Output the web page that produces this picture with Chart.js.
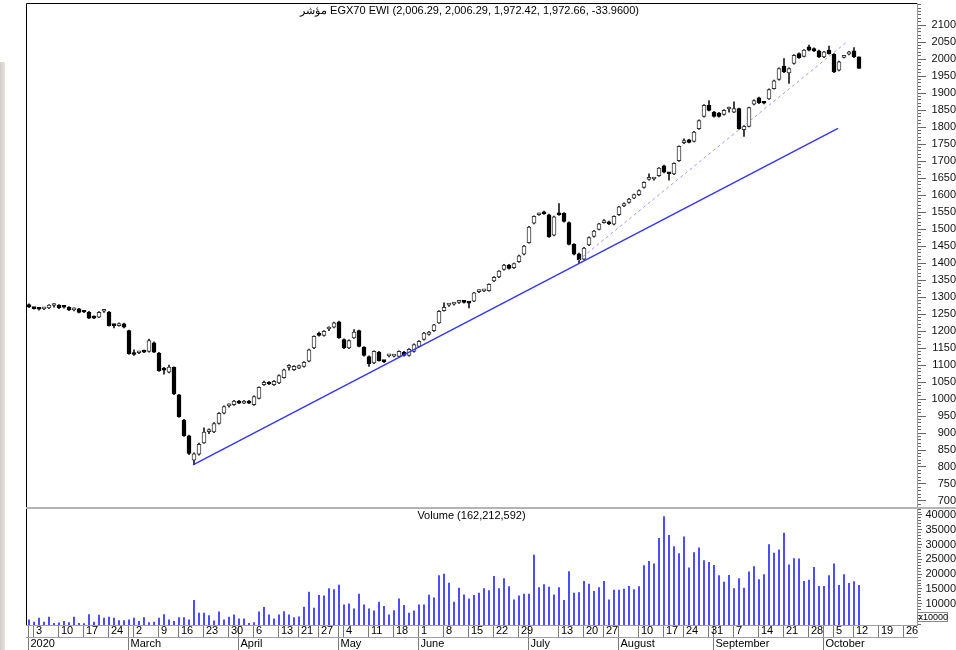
<!DOCTYPE html>
<html>
<head>
<meta charset="utf-8">
<script src="https://cdn.jsdelivr.net/npm/chart.js@4.4.1/dist/chart.umd.min.js"></script>
<style>
  html, body { margin: 0; padding: 0; background: #fff; }
  #wrap { width: 956px; height: 650px; }
</style>
</head>
<body>
<div id="wrap"><canvas id="chart" width="956" height="650"></canvas></div>
<script>
// daily candles, one per trading day (Feb 2 .. Oct 13, 2020)
const openP = [
  1278, 1268, 1265, 1265, 1268, 1275, 1276, 1271, 1270, 1262, 1265, 1258, 1256, 1243, 1241, 1258, 1256, 1218, 1216, 1221,
  1201, 1135, 1136, 1142, 1140, 1165, 1135, 1086, 1079, 1093, 1012, 938, 892, 820, 838, 871, 904, 903, 928, 958,
  980, 983, 994, 988, 994, 983, 1002, 1042, 1049, 1042, 1047, 1063, 1093, 1086, 1091, 1096, 1111, 1150, 1192, 1187,
  1206, 1211, 1227, 1175, 1150, 1180, 1201, 1152, 1125, 1106, 1138, 1111, 1127, 1126, 1125, 1138, 1128, 1140, 1155, 1175,
  1190, 1201, 1224, 1260, 1276, 1279, 1284, 1286, 1283, 1288, 1316, 1318, 1319, 1347, 1359, 1381, 1394, 1386, 1404, 1426,
  1460, 1517, 1542, 1547, 1542, 1482, 1546, 1546, 1519, 1455, 1427, 1411, 1453, 1478, 1499, 1519, 1521, 1514, 1542, 1568,
  1578, 1591, 1601, 1622, 1646, 1647, 1657, 1686, 1664, 1662, 1701, 1754, 1762, 1758, 1795, 1831, 1864, 1844, 1841, 1837,
  1853, 1844, 1854, 1792, 1802, 1867, 1886, 1871, 1883, 1913, 1940, 1979, 1959, 1987, 2016, 2008, 2036, 2031, 2024, 2006,
  2026, 2014, 1967, 2005, 2014, 2024, 2006.29
];
const highP = [
  1280, 1270, 1267, 1270, 1278, 1281, 1278, 1273, 1272, 1268, 1267, 1260, 1258, 1245, 1257, 1263, 1258, 1220, 1224, 1223,
  1203, 1145, 1140, 1144, 1176, 1168, 1137, 1093, 1100, 1095, 1014, 940, 894, 842, 870, 915, 912, 931, 960, 980,
  986, 996, 996, 996, 996, 1009, 1036, 1053, 1051, 1054, 1071, 1088, 1101, 1098, 1100, 1110, 1147, 1186, 1197, 1201,
  1212, 1226, 1229, 1177, 1174, 1204, 1203, 1154, 1127, 1142, 1140, 1114, 1131, 1129, 1142, 1140, 1148, 1162, 1172, 1196,
  1199, 1220, 1260, 1283, 1280, 1284, 1289, 1288, 1286, 1314, 1321, 1321, 1339, 1360, 1378, 1396, 1396, 1400, 1423, 1452,
  1508, 1539, 1547, 1553, 1544, 1538, 1575, 1548, 1521, 1457, 1429, 1446, 1477, 1496, 1517, 1528, 1523, 1539, 1567, 1577,
  1590, 1603, 1615, 1639, 1662, 1650, 1681, 1688, 1666, 1695, 1745, 1765, 1764, 1787, 1821, 1866, 1878, 1846, 1843, 1851,
  1859, 1874, 1856, 1804, 1859, 1880, 1888, 1874, 1912, 1938, 1974, 2001, 1974, 2013, 2018, 2028, 2041, 2033, 2026, 2023,
  2038, 2016, 1994, 2008, 2023, 2034, 2006.29
];
const lowP = [
  1269, 1264, 1261, 1263, 1266, 1270, 1266, 1267, 1260, 1259, 1253, 1254, 1236, 1236, 1239, 1255, 1214, 1209, 1214, 1209,
  1131, 1128, 1133, 1136, 1138, 1136, 1081, 1073, 1077, 1013, 946, 890, 836, 807, 835, 869, 898, 901, 926, 956,
  976, 981, 986, 986, 986, 981, 1000, 1040, 1042, 1040, 1045, 1061, 1085, 1084, 1089, 1094, 1109, 1148, 1185, 1185,
  1201, 1209, 1178, 1148, 1148, 1178, 1153, 1126, 1096, 1104, 1111, 1107, 1124, 1124, 1123, 1126, 1126, 1138, 1153, 1173,
  1188, 1199, 1222, 1258, 1272, 1276, 1281, 1282, 1268, 1286, 1313, 1316, 1317, 1345, 1357, 1379, 1382, 1384, 1402, 1424,
  1458, 1515, 1540, 1543, 1475, 1480, 1540, 1520, 1453, 1424, 1400, 1409, 1451, 1476, 1497, 1517, 1513, 1512, 1540, 1566,
  1576, 1589, 1599, 1620, 1644, 1644, 1655, 1665, 1644, 1660, 1699, 1751, 1753, 1756, 1793, 1829, 1847, 1829, 1829, 1835,
  1844, 1842, 1793, 1772, 1800, 1865, 1869, 1868, 1881, 1911, 1938, 1960, 1928, 1985, 2002, 2006, 2024, 2022, 2004, 2004,
  2014, 1960, 1965, 2003, 2012, 2004, 1972.42
];
const closeP = [
  1271, 1266, 1264, 1268, 1276, 1276, 1268, 1270, 1262, 1266, 1255, 1256, 1238, 1238, 1255, 1259, 1216, 1216, 1222, 1211,
  1133, 1131, 1137, 1138, 1172, 1138, 1083, 1085, 1094, 1015, 948, 892, 840, 839, 867, 903, 906, 928, 958, 978,
  982, 994, 988, 994, 988, 1007, 1034, 1049, 1044, 1052, 1069, 1086, 1094, 1096, 1098, 1108, 1145, 1184, 1187, 1199,
  1207, 1224, 1180, 1150, 1172, 1197, 1155, 1128, 1103, 1140, 1113, 1110, 1128, 1127, 1140, 1128, 1146, 1160, 1170, 1194,
  1197, 1218, 1258, 1270, 1278, 1280, 1285, 1284, 1282, 1312, 1317, 1319, 1337, 1358, 1376, 1394, 1384, 1398, 1421, 1450,
  1506, 1537, 1544, 1545, 1477, 1536, 1542, 1522, 1455, 1426, 1409, 1444, 1475, 1494, 1515, 1521, 1515, 1537, 1565, 1575,
  1588, 1601, 1613, 1637, 1647, 1648, 1679, 1667, 1662, 1693, 1743, 1755, 1755, 1785, 1819, 1864, 1849, 1831, 1831, 1849,
  1854, 1854, 1795, 1802, 1857, 1878, 1871, 1870, 1910, 1936, 1972, 1962, 1972, 2011, 2004, 2026, 2026, 2024, 2006, 2021,
  2016, 1962, 1992, 2006, 2021, 2006.62, 1972.66
];
// volume in units of 10000
const volume = [
  4540, 3750, 5110, 3750, 5450, 3400, 3500, 4000, 3640, 5450, 3400,
  3300, 6350, 3750, 6130, 5110, 5450, 5110, 4300, 4300, 4540,
  5110, 4000, 5340, 3640, 3750, 5110, 6350, 4540, 4000, 5340,
  5340, 4540, 11110, 6810, 6810, 6010, 4200, 7260, 4540, 5450,
  6240, 4880, 4880, 3400, 3640, 7260, 8730, 6240, 4880, 6240,
  7370, 6240, 5340, 5560, 8850, 13940, 8510, 12810, 12700, 15080,
  14740, 16320, 9640, 9980, 8280, 13260, 9640, 8280, 7600, 10550,
  9070, 6240, 7710, 11680, 9420, 6810, 7600, 9640, 9640, 12930,
  12020, 19500, 20060, 17000, 10550, 15300, 13040, 11680, 12810, 13600,
  15080, 14400, 19270, 15080, 18480, 15760, 11340, 12700, 13260, 13260,
  26410, 15420, 16440, 15650, 13040, 15420, 11110, 20860, 13600, 13720,
  17570, 16670, 14170, 15420, 17570, 11340, 14620, 14620, 14970, 15870,
  14740, 15760, 22900, 24370, 23460, 32070, 39440, 33090, 29350, 26970,
  32640, 22100, 27310, 28900, 24600, 24030, 23010, 19500, 17340, 19610,
  15080, 18480, 15300, 20740, 22560, 18140, 19840, 30030, 27090, 28220,
  33890, 23120, 25280, 25160, 17570, 18020, 22330, 15870, 15870, 19500,
  23460, 16210, 19840, 16890, 17460, 16221
];

// first trading day of each week / month (index into the daily arrays)
const weekStart = [1, 6, 11, 16, 21, 26, 30, 35, 40, 45, 50, 54, 58, 63, 68, 73, 78, 83, 88, 93, 98,
  106, 111, 115, 122, 127, 131, 136, 141, 146, 151, 156, 161, 165, 170, 175];
const weekLabels = ['3', '10', '17', '24', '2', '9', '16', '23', '30', '6', '13', '21', '27', '4', '11', '18',
  '1', '8', '15', '22', '29', '13', '20', '27', '10', '17', '24', '31', '7', '14', '21', '28', '5', '12', '19', '26'];
const monthStart = [0, 20, 42, 62, 78, 100, 118, 137, 159];
const monthLabels = ['2020', 'March', 'April', 'May', 'June', 'July', 'August', 'September', 'October'];

const priceTicks = [700, 750, 800, 850, 900, 950, 1000, 1050, 1100, 1150, 1200, 1250, 1300, 1350, 1400,
  1450, 1500, 1550, 1600, 1650, 1700, 1750, 1800, 1850, 1900, 1950, 2000, 2050, 2100];
const volumeTicks = [10000, 15000, 20000, 25000, 30000, 35000, 40000];

// trend lines drawn on the chart: [day index, price]
const supportLine = [[32.8, 806], [161.8, 1796]];
const channelLine = [[109.8, 1407], [163.8, 2053]];

const titleText = 'مؤشر EGX70 EWI (2,006.29, 2,006.29, 1,972.42, 1,972.66, -33.9600)';
const volumeText = 'Volume (162,212,592)';

const FONT = '"Liberation Sans", Arial, sans-serif';
const font = { family: FONT, size: 11 };

const bodies = openP.map((o, i) => ({ x: i, y: [o, closeP[i]] }));
const bodyFill = openP.map((o, i) => (closeP[i] < o ? '#000' : '#fff'));
const bodyLine = openP.map((o, i) => (closeP[i] < o ? '#000' : '#333'));
const wicks = highP.map((h, i) => ({ x: i, y: [lowP[i], h] }));
const vols = volume.map((v, i) => ({ x: i, y: v }));

const dayTicks = weekStart.map((v, i) => ({ v, label: weekLabels[i] }))
  .concat(monthStart.map(v => ({ v, label: '' })))
  .sort((a, b) => a.v - b.v);

const X_MIN = -0.6, X_MAX = 177.6;

const panelDecor = {
  id: 'panelDecor',
  beforeDraw(chart) {
    const { ctx } = chart;
    ctx.save();
    ctx.fillStyle = '#fff';
    ctx.fillRect(0, 0, chart.width, chart.height);
    const g = ctx.createLinearGradient(0, 0, 5, 0);
    g.addColorStop(0, '#d2cec5');
    g.addColorStop(1, '#e6e3dc');
    ctx.fillStyle = g;
    ctx.fillRect(0, 62, 5, chart.height - 62);
    ctx.restore();
  },
  afterDraw(chart) {
    const { ctx, chartArea, scales } = chart;
    ctx.save();
    // frame
    ctx.strokeStyle = '#000';
    ctx.lineWidth = 1;
    ctx.beginPath();
    ctx.moveTo(chartArea.left + 0.5, chartArea.bottom);
    ctx.lineTo(chartArea.left + 0.5, chartArea.top + 0.5);
    ctx.lineTo(chartArea.right, chartArea.top + 0.5);
    ctx.stroke();
    // separator between price and volume panels
    ctx.fillStyle = '#b4b4b4';
    ctx.fillRect(chartArea.left, scales.yv.top - 1, chart.width - chartArea.left, 2);
    // panel captions
    const cx = (chartArea.left + chartArea.right) / 2;
    ctx.font = '11px ' + FONT;
    ctx.fillStyle = '#000';
    ctx.textAlign = 'center';
    ctx.textBaseline = 'middle';
    ctx.fillText(titleText, cx - 2, scales.y.top + 7.5);
    ctx.fillText(volumeText, cx, scales.yv.top + 7.5);
    // volume multiplier box
    const bx = scales.yv.left + 0.5, by = scales.yv.bottom - 12.5;
    ctx.strokeStyle = '#888';
    ctx.strokeRect(bx, by, 30, 9);
    ctx.font = '9px ' + FONT;
    ctx.textAlign = 'left';
    ctx.fillText('x10000', bx + 1, by + 5);
    ctx.restore();
  }
};

const minorDash = (majors) => (ctx) => (majors.includes(ctx.tick.value) ? [] : [3, 20]);
const noPad = (w) => (s) => { s.width = w; s.paddingTop = 0; s.paddingBottom = 0; };

new Chart(document.getElementById('chart'), {
  type: 'bar',
  data: {
    datasets: [
      {
        type: 'line', data: supportLine.map(p => ({ x: p[0], y: p[1] })),
        xAxisID: 'x', yAxisID: 'y', borderColor: '#3535ff', borderWidth: 1.4,
        pointRadius: 0, tension: 0, order: 0
      },
      {
        type: 'line', data: channelLine.map(p => ({ x: p[0], y: p[1] })),
        xAxisID: 'x', yAxisID: 'y', borderColor: '#9a9aff', borderWidth: 1,
        borderDash: [3, 3], pointRadius: 0, tension: 0, order: 0
      },
      {
        data: bodies, xAxisID: 'x', yAxisID: 'y', grouped: false,
        barThickness: 4, minBarLength: 2, borderWidth: 1, borderSkipped: false,
        backgroundColor: bodyFill, borderColor: bodyLine, order: 1
      },
      {
        data: wicks, xAxisID: 'x', yAxisID: 'y', grouped: false,
        barThickness: 1, backgroundColor: '#1a1a1a', borderWidth: 0, order: 2
      },
      {
        data: vols, xAxisID: 'x', yAxisID: 'yv', grouped: false,
        barThickness: 1, backgroundColor: '#2a2aff', borderWidth: 0, order: 3
      }
    ]
  },
  options: {
    responsive: false,
    animation: false,
    devicePixelRatio: 1,
    layout: { padding: { left: 26, top: 3, right: 0, bottom: 0 } },
    plugins: { legend: { display: false }, tooltip: { enabled: false }, title: { display: false } },
    scales: {
      x: {
        type: 'linear', position: 'bottom', min: X_MIN, max: X_MAX, offset: false,
        afterBuildTicks: s => { s.ticks = dayTicks.map(t => ({ value: t.v - 0.1 })); },
        afterFit: s => { s.height = 12; s.paddingLeft = 0; s.paddingRight = 0; },
        ticks: {
          autoSkip: false, maxRotation: 0, align: 'start', labelOffset: 2.5, padding: -12.3,
          font, color: '#000', callback: (v, i) => dayTicks[i].label
        },
        grid: { offset: false, drawOnChartArea: false, drawTicks: true, tickLength: 12, tickColor: '#7a7a7a' },
        border: { display: true, color: '#a0a0a0' }
      },
      xm: {
        type: 'linear', position: 'bottom', min: X_MIN, max: X_MAX, offset: false,
        afterBuildTicks: s => { s.ticks = monthStart.map(v => ({ value: v - 0.1 })); },
        afterFit: s => { s.height = 13; s.paddingLeft = 0; s.paddingRight = 0; },
        ticks: {
          autoSkip: false, maxRotation: 0, align: 'start', labelOffset: 2, padding: -13.1,
          font, color: '#000', callback: (v, i) => monthLabels[i]
        },
        grid: { offset: false, drawOnChartArea: false, drawTicks: true, tickLength: 13, tickColor: '#7a7a7a' },
        border: { display: true, color: '#a0a0a0' }
      },
      y: {
        type: 'linear', position: 'right', stack: 'right', stackWeight: 505,
        min: 679.4, max: 2164.8, beginAtZero: false,
        afterBuildTicks: s => {
          const t = [];
          for (let v = 680; v <= 2160; v += 10) t.push({ value: v });
          s.ticks = t;
        },
        afterFit: noPad(39),
        ticks: {
          autoSkip: false, crossAlign: 'far', padding: 4, font, color: '#111',
          callback: v => (priceTicks.includes(v) ? String(v) : '')
        },
        grid: {
          drawOnChartArea: false, drawTicks: true, tickLength: 9, tickColor: '#666',
          tickBorderDash: minorDash(priceTicks)
        },
        border: { display: true, color: '#999' }
      },
      yv: {
        type: 'linear', position: 'right', stack: 'right', stackWeight: 117,
        min: 2796, max: 42367, beginAtZero: false,
        afterBuildTicks: s => {
          const t = [];
          for (let v = 3000; v <= 42000; v += 1000) t.push({ value: v });
          s.ticks = t;
        },
        afterFit: noPad(39),
        ticks: {
          autoSkip: false, crossAlign: 'far', padding: 2.4, font, color: '#111',
          callback: v => (volumeTicks.includes(v) ? String(v) : '')
        },
        grid: {
          drawOnChartArea: false, drawTicks: true, tickLength: 5, tickColor: '#666',
          tickBorderDash: minorDash(volumeTicks)
        },
        border: { display: true, color: '#999' }
      }
    }
  },
  plugins: [panelDecor]
});
</script>
</body>
</html>
